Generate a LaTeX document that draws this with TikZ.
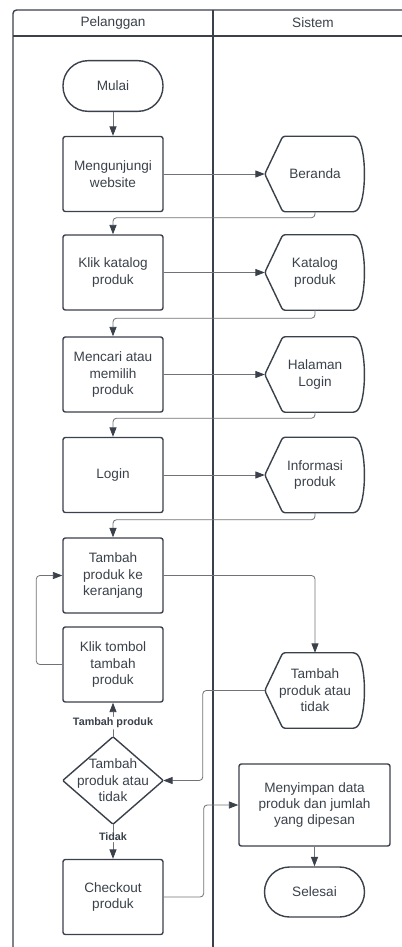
\documentclass[tikz,border=0pt]{standalone}
\usepackage{fontspec}
\setmainfont{Liberation Sans}
\usepackage{tikz}
\usetikzlibrary{arrows.meta}
\definecolor{ink}{HTML}{3A414A}
\definecolor{wire}{HTML}{6F7378}

\begin{document}
\begin{tikzpicture}[x=0.03cm,y=-0.03cm,
		every node/.style={font=\fontsize{11.6}{14}\selectfont,text=ink,align=center},
		proses/.style={draw=ink,line width=1.2pt,rounded corners=2pt,minimum width=3cm,minimum height=2.25cm,inner sep=0pt},
		terminal/.style={draw=ink,line width=1.2pt,rounded corners=0.75cm,minimum width=3cm,minimum height=1.52cm,inner sep=0pt},
		layar/.style={minimum width=3cm,minimum height=2.25cm,inner sep=0pt},
		pilihan/.style={minimum width=3cm,minimum height=2.61cm,inner sep=0pt},
		garis/.style={draw=ink,line width=1.2pt},
		alur/.style={draw=wire,line width=0.7pt,rounded corners=3pt,-{Triangle[length=8pt,width=6pt,color=ink]}},
		ket/.style={font=\fontsize{9.2}{11}\selectfont\bfseries,fill=white,inner sep=1pt}]
	\useasboundingbox (0,0) rectangle (402,947);
	% swimlane
	\draw[garis,rounded corners=3pt] (13,947) -- (13,10) -- (402,10);
	\draw[garis] (13,36) -- (402,36);
	\draw[garis] (213,10) -- (213,947);
	\node (pelanggan) at (113,23) {Pelanggan};
	\node (sistem) at (313,23) {Sistem};
	% pelanggan
	\node[terminal] (mulai) at (113,86) {Mulai};
	\node[proses] (kunjungi) at (113,174) {Mengunjungi\\website};
	\node[proses] (klik) at (113,272.5) {Klik katalog\\produk};
	\node[proses] (cari) at (113,374.5) {Mencari atau\\memilih\\produk};
	\node[proses] (login) at (113,475) {Login};
	\node[proses] (tambah) at (113,575.5) {Tambah\\produk ke\\keranjang};
	\node[proses] (tombol) at (113,664.5) {Klik tombol\\tambah\\produk};
	\node[pilihan] (putuskan) at (113,780.5) {Tambah\\produk atau\\tidak};
	\node[proses] (checkout) at (113,897) {Checkout\\produk};
	% sistem
	\node[layar] (beranda) at (315,174) {Beranda};
	\node[layar] (katalog) at (315,272.5) {Katalog\\produk};
	\node[layar] (halaman) at (315,374.5) {Halaman\\Login};
	\node[layar] (info) at (315,475) {Informasi\\produk};
	\node[layar] (tanya) at (315,690.5) {Tambah\\produk atau\\tidak};
	\node[proses,minimum width=4.53cm,minimum height=2.46cm] (simpan) at (314.5,805) {Menyimpan data\\produk dan jumlah\\yang dipesan};
	\node[terminal,minimum height=1.5cm] (selesai) at (314.5,892) {Selesai};
	% bentuk layar dan keputusan
	\foreach \n in {beranda,katalog,halaman,info,tanya}
		\draw[garis,rounded corners=2pt] (\n.west) -- ([xshift=0.54cm]\n.north west) -- ([xshift=-0.3cm]\n.north east)
			.. controls ([xshift=0.05cm,yshift=-0.3cm]\n.north east) and ([xshift=0.05cm,yshift=0.3cm]\n.south east) .. ([xshift=-0.3cm]\n.south east)
			-- ([xshift=0.54cm]\n.south west) -- cycle;
	\draw[garis,rounded corners=1pt] (putuskan.north) -- (putuskan.east) -- (putuskan.south) -- (putuskan.west) -- cycle;
	% alur
	\draw[alur] (mulai) -- (kunjungi);
	\draw[alur] (kunjungi) -- (beranda.west);
	\draw[alur] (beranda.south) -- ++(0,6) -| (klik.north);
	\draw[alur] (klik) -- (katalog.west);
	\draw[alur] (katalog.south) -- ++(0,8) -| (cari.north);
	\draw[alur] (cari) -- (halaman.west);
	\draw[alur] (halaman.south) -- ++(0,6) -| (login.north);
	\draw[alur] (login) -- (info.west);
	\draw[alur] (info.south) -- ++(0,7) -| (tambah.north);
	\draw[alur] (tambah.east) -| (tanya.north);
	\draw[alur] (tombol.west) -- ++(-26,0) |- (tambah.west);
	\draw[alur] (putuskan.north) -- node[ket,pos=0.4] (lbltambah) {Tambah produk} (tombol.south);
	\draw[alur] (tanya.west) -- ++(-62,0) |- (putuskan.east);
	\draw[alur] (putuskan.south) -- node[ket,pos=0.37] (lbltidak) {Tidak} (checkout.north);
	\draw[alur] (checkout.east) -- ++(40,0) |- (simpan.west);
	\draw[alur] (simpan) -- (selesai);
\end{tikzpicture}
\end{document}
